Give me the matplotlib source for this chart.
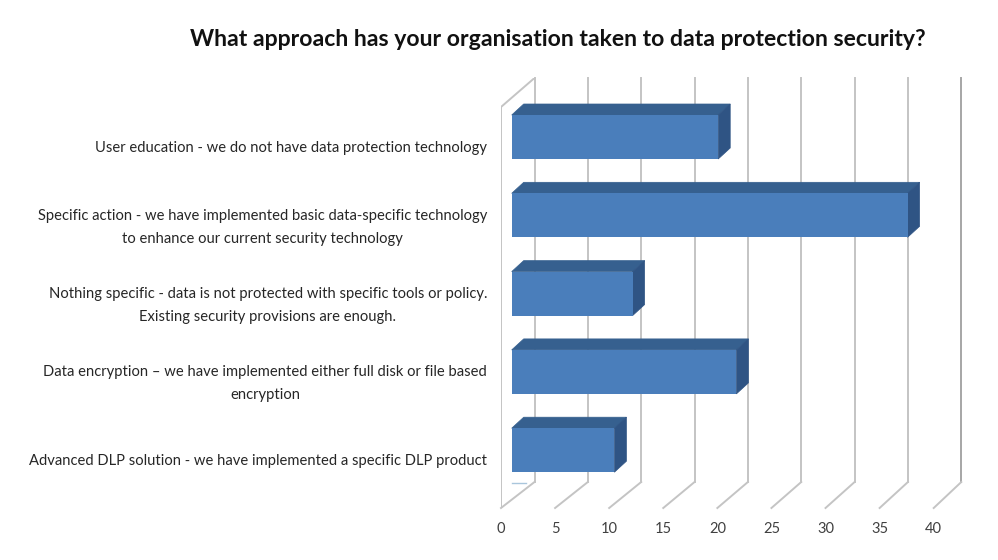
import numpy as np
import matplotlib
matplotlib.use("Agg")
import matplotlib.pyplot as plt

categories = [
    "User education - we do not have data protection technology",
    "Specific action - we have implemented basic data-specific technology\nto enhance our current security technology",
    "Nothing specific - data is not protected with specific tools or policy.\nExisting security provisions are enough.",
    "Data encryption \u2013 we have implemented either full disk or file based\nencryption",
    "Advanced DLP solution - we have implemented a specific DLP product",
]
values = [19.3, 37.0, 11.3, 21.0, 9.6]
x_ticks = [0, 5, 10, 15, 20, 25, 30, 35, 40]
title = "What approach has your organisation taken to data protection security?"

plt.rcParams["font.family"] = ["Lato", "DejaVu Sans"]

W, H = 998, 560
fig = plt.figure(figsize=(W / 100, H / 100), dpi=100, facecolor="white")

# axes box in pixels
left, right, top, bottom = 501, 975, 78, 508
ax = fig.add_axes([left / W, 1 - bottom / H, (right - left) / W, (bottom - top) / H])

# scale of the chart: px per value unit and px per category
sx = 10.7
sy = 78.3
x0 = 511.7  # px of value 0 on the bars' front face
y0 = 137.0  # px of first category centre

ax.set_xlim((left - x0) / sx, (right - x0) / sx)
ax.set_ylim((bottom - y0) / sy, (top - y0) / sy)
for s in ax.spines.values():
    s.set_visible(False)

# 3d offsets, in data units
bar_dx = 12 / sx
bar_dy = 11 / sy
back_dx = (534.5 - x0) / sx
wall_left = (left - x0) / sx
y_floor_back = (482 - y0) / sy
y_floor_front = (508 - y0) / sy
y_wall_top = (78 - y0) / sy
y_wall_front = (107 - y0) / sy

grid_c = "#c4c4c4"
for v in x_ticks:
    xb = v * 53.35 / 53.5 + back_dx
    xf = wall_left + v * 1.011
    c = "#a6a6a6" if v == 40 else grid_c
    ax.plot([xb, xb], [y_wall_top, y_floor_back], color=c, lw=1.4, zorder=1, clip_on=False)
    ax.plot([xb, xf], [y_floor_back, y_floor_front], color=grid_c, lw=1.4, zorder=1, clip_on=False)

# left wall
ax.plot([wall_left, wall_left], [y_wall_front, y_floor_front], color=grid_c, lw=1.4, zorder=1)
ax.plot([wall_left, back_dx], [y_wall_front, y_wall_top], color=grid_c, lw=1.4, zorder=1)

y = np.arange(len(categories))
bar_h = 44 / sy
for yi, v in zip(y, values):
    t, b = yi - bar_h / 2, yi + bar_h / 2
    ax.fill([0, v, v + bar_dx, bar_dx], [t, t, t - bar_dy, t - bar_dy],
            color="#36608f", lw=0.5, zorder=3)
    ax.fill([v, v + bar_dx, v + bar_dx, v], [t, t - bar_dy, b - bar_dy, b],
            color="#2f5484", lw=0.5, zorder=3)
ax.barh(y, values, height=bar_h, color="#4a7ebb", zorder=4)

# small stub of the floor shadow under the last bar
ax.plot([0, 1.3], [(483 - y0) / sy, (483 - y0) / sy], color="#a9c6dc", lw=1, zorder=2)

# labels sit a little below the bar centres, two-line ones less so
label_pos = [yi + (6 if "\n" in c else 9.5) / sy for yi, c in zip(y, categories)]
ax.set_yticks(label_pos, categories, ha="right", ma="center", fontsize=10.65,
              color="#262626", linespacing=1.8)
ax.tick_params(axis="y", length=0, pad=10)

ax.set_xticks([wall_left + v * 1.011 for v in x_ticks], [str(v) for v in x_ticks],
              fontsize=10.5, color="#404040")
ax.tick_params(axis="x", length=0, pad=10)

fig.text(557.5 / W, 1 - 39 / H, title, ha="center", va="center",
         fontsize=16.6, fontweight="bold", color="#111111")

fig.savefig("out.png", dpi=100)
